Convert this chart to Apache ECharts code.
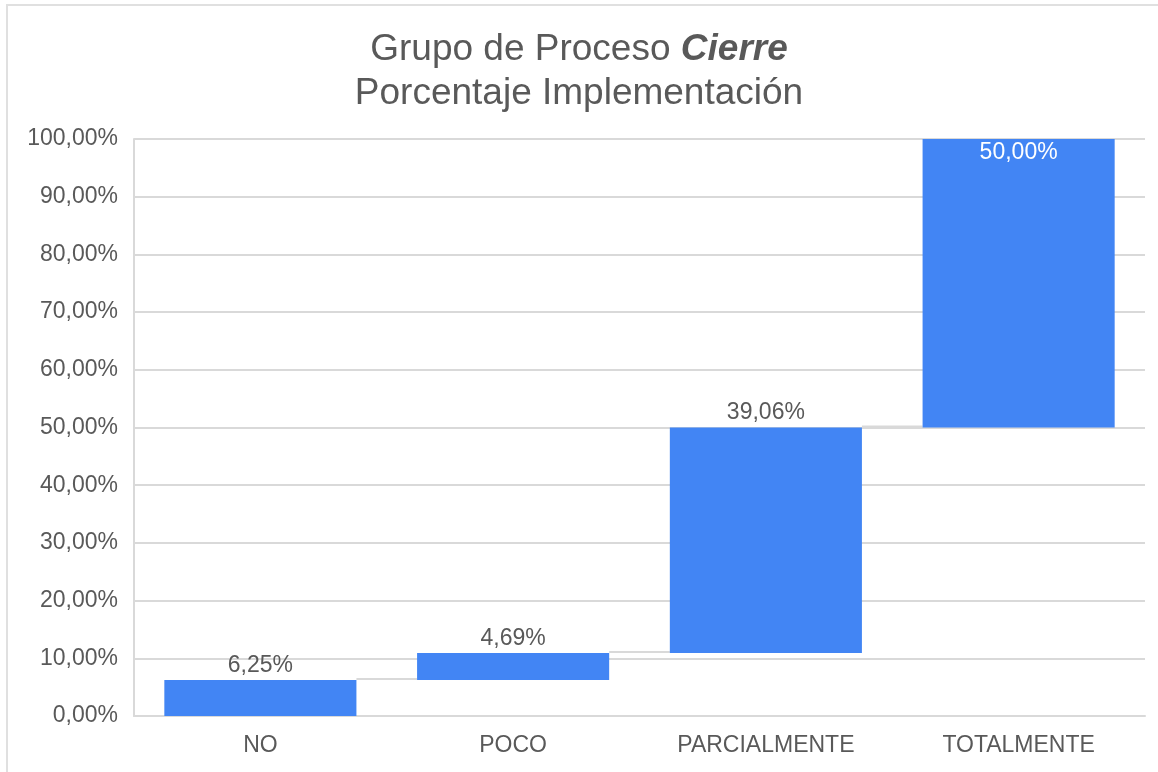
<!DOCTYPE html>
<html>
<head>
<meta charset="utf-8">
<script src="https://cdn.jsdelivr.net/npm/echarts@6/dist/echarts.min.js"></script>
<style>
  html, body { margin: 0; padding: 0; background: #fff; }
  #chart { width: 1158px; height: 772px; }
</style>
</head>
<body>
<div id="chart"></div>
<script>
const categories = ['NO', 'POCO', 'PARCIALMENTE', 'TOTALMENTE']
const values = [6.25, 4.69, 39.06, 50.00]
const yTicks = { min: 0, max: 100, interval: 10 }

// waterfall: invisible base = running total before each step
const bases = []
const tops = []
let run = 0
values.forEach((v) => {
  bases.push(run)
  run += v
  tops.push(run)
})

const fmt = (v) => v.toFixed(2).replace('.', ',') + '%'
const textColor = '#595959'
const lineColor = '#d9d9d9'
const barRatio = 0.76

const chart = echarts.init(document.getElementById('chart'))
chart.setOption({
  backgroundColor: '#fff',
  animation: false,
  textStyle: { fontFamily: 'Liberation Sans, Arial, sans-serif' },
  title: {
    text: 'Grupo de Proceso {b|Cierre}\nPorcentaje Implementación',
    left: 'center',
    top: 23,
    textStyle: {
      fontSize: 37,
      fontWeight: 'normal',
      color: textColor,
      lineHeight: 44,
      rich: {
        b: { fontSize: 37, fontWeight: 'bold', fontStyle: 'italic', color: textColor }
      }
    }
  },
  graphic: [{
    type: 'rect',
    shape: { x: 7, y: 5, width: 1170, height: 800 },
    style: { fill: 'none', stroke: '#e0e0e0', lineWidth: 2 },
    silent: true
  }],
  grid: { left: 134, right: 13, top: 139, bottom: 56 },
  xAxis: {
    type: 'category',
    data: categories,
    axisTick: { show: false },
    axisLine: { lineStyle: { color: lineColor, width: 2 } },
    axisLabel: { color: textColor, fontSize: 23, margin: 18 }
  },
  yAxis: {
    type: 'value',
    min: yTicks.min,
    max: yTicks.max,
    interval: yTicks.interval,
    axisLine: { show: true, lineStyle: { color: lineColor, width: 2 } },
    axisTick: { show: false },
    axisLabel: { color: textColor, fontSize: 23, margin: 16, formatter: fmt },
    splitLine: { lineStyle: { color: lineColor, width: 2 } }
  },
  series: [
    {
      type: 'bar',
      stack: 'wf',
      data: bases,
      barWidth: (barRatio * 100) + '%',
      itemStyle: { color: 'transparent' },
      silent: true
    },
    {
      type: 'bar',
      stack: 'wf',
      data: values.map((v, i) => ({
        value: v,
        label: i === values.length - 1
          ? { position: 'insideTop', color: '#fff', distance: 2 }
          : { position: 'top', color: textColor, distance: 3 }
      })),
      itemStyle: { color: '#4285f4' },
      label: { show: true, fontSize: 23, formatter: (p) => fmt(p.value) }
    },
    {
      type: 'custom',
      data: tops.slice(0, -1).map((t, i) => [i, t]),
      renderItem: (params, api) => {
        const i = api.value(0)
        const t = api.value(1)
        const bw = api.size([1, 0])[0] * barRatio
        const a = api.coord([i, t])
        const b = api.coord([i + 1, t])
        return {
          type: 'line',
          shape: { x1: a[0] + bw / 2, y1: a[1] - 1, x2: b[0] - bw / 2, y2: a[1] - 1 },
          style: { stroke: lineColor, lineWidth: 2 }
        }
      },
      silent: true,
      z: 1
    }
  ]
})
</script>
</body>
</html>
